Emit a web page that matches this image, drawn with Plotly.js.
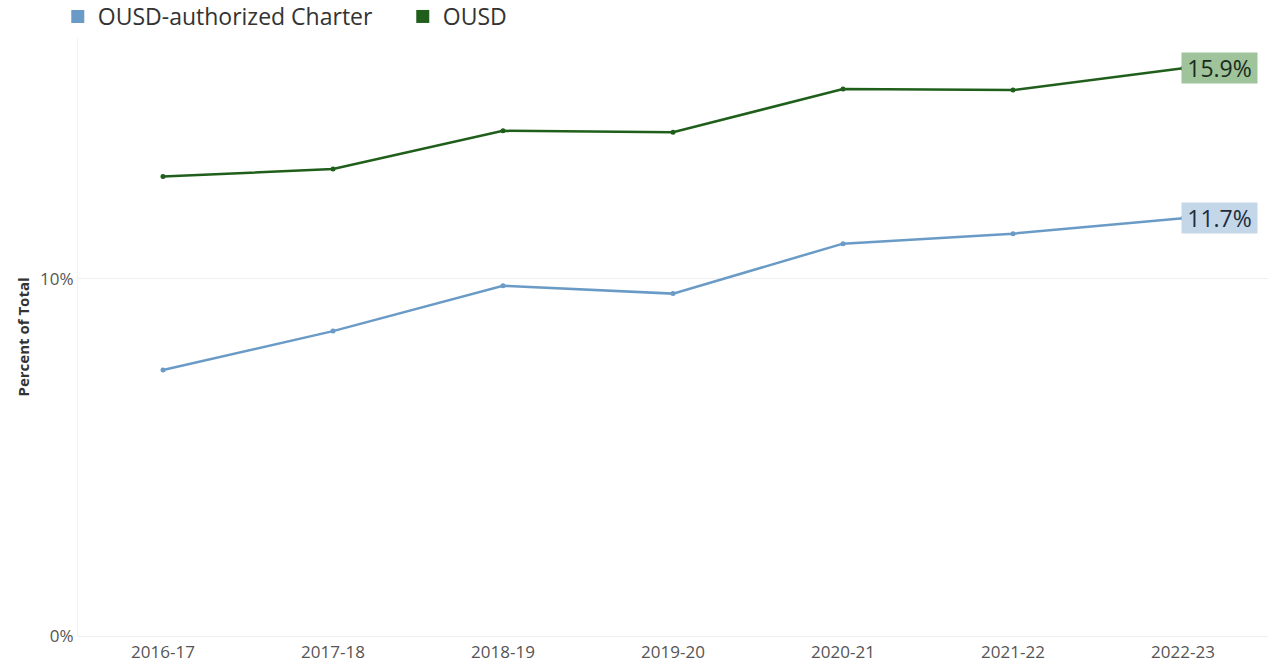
<!DOCTYPE html>
<html>
<head>
<meta charset="utf-8">
<script src="https://cdn.plot.ly/plotly-3.0.1.min.js"></script>
<style>
  html, body { margin: 0; padding: 0; background: #fff; }
  #chart { width: 1268px; height: 664px; }
</style>
</head>
<body>
<div id="chart"></div>
<script>
// school years on the x axis
const years = ["2016-17", "2017-18", "2018-19", "2019-20", "2020-21", "2021-22", "2022-23"];

// percent of total
const charterPct = [7.45, 8.54, 9.81, 9.59, 10.99, 11.27, 11.7];
const ousdPct = [12.87, 13.08, 14.15, 14.11, 15.32, 15.29, 15.9];

const yTicks = [0, 10];
const yTickText = ["0%", "10%"];

const blue = "#6a9bc6";
const green = "#1f5f1b";
const last = years.length - 1;
const fontFam = "'Open Sans', Lato, sans-serif";

function lineTrace(name, values, color) {
  return {
    x: years,
    y: values,
    name: name,
    mode: "lines+markers",
    line: { color: color, width: 2.5 },
    marker: { color: color, size: 5 },
    showlegend: false,
    hoverinfo: "x+y"
  };
}

// square legend swatches like the original
function legendTrace(name, color) {
  return {
    x: [null],
    y: [null],
    name: name,
    mode: "markers",
    marker: { color: color, size: 13, symbol: "square" },
    showlegend: true
  };
}

function endLabel(values, bg, fg) {
  return {
    x: years[last], y: values[last],
    text: values[last].toFixed(1) + "%",
    showarrow: false,
    xanchor: "left", yanchor: "middle",
    xshift: -2,
    width: 75, height: 30,
    align: "center",
    bgcolor: bg,
    borderpad: 0,
    font: { size: 23, color: fg, family: fontFam }
  };
}

var data = [
  lineTrace("OUSD-authorized Charter", charterPct, blue),
  lineTrace("OUSD", ousdPct, green),
  legendTrace("OUSD-authorized Charter", blue),
  legendTrace("OUSD", green)
];

var layout = {
  width: 1268,
  height: 664,
  margin: { l: 78, r: 0, t: 38, b: 28, autoexpand: false },
  paper_bgcolor: "#fff",
  plot_bgcolor: "#fff",
  font: { family: fontFam, color: "#555" },
  showlegend: true,
  legend: {
    orientation: "h",
    x: -0.017,
    xanchor: "left",
    y: 1.0,
    yanchor: "bottom",
    font: { size: 23, color: "#333", family: fontFam },
    entrywidth: 300,
    entrywidthmode: "pixels",
    itemclick: false
  },
  xaxis: {
    type: "category",
    range: [-0.5, 6.5],
    showgrid: false,
    zeroline: false,
    showline: false,
    ticks: "",
    ticklabelstandoff: 4,
    tickfont: { size: 17, color: "#555", family: fontFam },
    fixedrange: true
  },
  yaxis: {
    range: [0, 16.75],
    tickvals: yTicks,
    ticktext: yTickText,
    showgrid: true,
    gridcolor: "#f0f0f0",
    zeroline: true,
    zerolinecolor: "#eeeeee",
    showline: true,
    linecolor: "#f2f2f2",
    ticks: "",
    tickfont: { size: 17, color: "#555", family: fontFam },
    title: {
      text: "Percent of Total",
      font: { size: 15, color: "#333", family: fontFam, weight: "bold" },
      standoff: 6
    },
    fixedrange: true
  },
  annotations: [
    endLabel(ousdPct, "#9fc39b", "#1b2b1b"),
    endLabel(charterPct, "#c3d7e9", "#1e2c3c")
  ]
};

Plotly.newPlot("chart", data, layout, { displayModeBar: false, staticPlot: true });
</script>
</body>
</html>
